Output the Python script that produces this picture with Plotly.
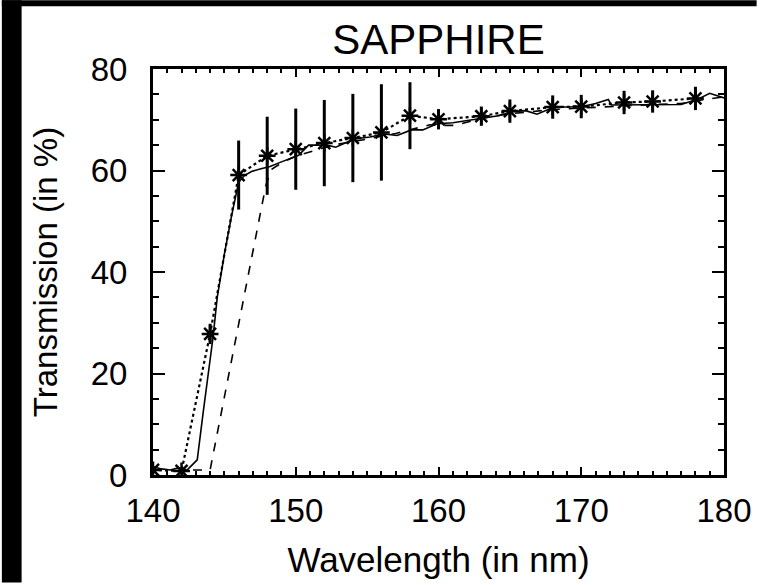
import plotly.graph_objects as go

# Sampled measurement (stars, dotted) with error bars
star_x = [140, 142, 144, 146, 148, 150, 152, 154, 156, 158, 160, 163, 165, 168, 170, 173, 175, 178]
star_y = [1.0, 0.8, 27.8, 59.1, 62.9, 64.2, 65.4, 66.4, 67.5, 70.8, 70.1, 70.7, 71.7, 72.5, 72.6, 73.4, 73.6, 74.2]
star_err = [0.5, 0.5, 2.0, 6.8, 7.7, 8.0, 8.5, 8.7, 9.5, 6.6, 2.0, 1.9, 2.3, 2.3, 2.3, 2.3, 2.2, 2.3]

# High resolution measurement (solid)
solid_x = [140.0, 140.6, 141.2, 141.8, 142.4, 142.9, 143.1, 143.5, 144.0, 144.2, 144.5, 145.0, 145.5,
           146.0, 146.4, 146.9, 147.5, 148.2, 149.0, 150.2, 150.9, 152.2, 152.8, 154.1, 155.2, 156.2,
           157.1, 158.1, 158.9, 159.9, 161.0, 162.0, 163.2, 164.2, 165.2, 166.1, 166.9, 168.1, 169.1,
           170.1, 171.0, 171.9, 172.1, 173.1, 175.1, 177.0, 178.2, 179.0, 180.0]
solid_y = [1.6, 1.2, 1.0, 1.4, 1.0, 2.5, 3.0, 12.0, 22.0, 27.0, 35.0, 43.5, 51.0,
           57.7, 59.0, 59.8, 60.3, 60.8, 61.7, 63.0, 65.0, 65.0, 64.6, 66.2, 66.6, 67.2,
           66.9, 68.0, 68.0, 69.2, 69.4, 69.8, 70.4, 70.8, 71.6, 71.8, 71.1, 72.5, 72.5,
           72.6, 73.2, 74.0, 72.9, 72.9, 73.0, 73.0, 74.1, 75.2, 74.3]

# Second measurement (dashed)
dash_x = [142.8, 144.0, 147.9, 148.3, 149.0, 150.0, 151.6, 153.0, 155.0, 157.0, 159.4, 160.0, 161.2,
          163.0, 165.0, 168.0, 170.0, 173.0, 175.0, 177.0, 178.2, 180.0]
dash_y = [1.0, 1.0, 57.0, 60.2, 61.5, 62.8, 64.2, 65.2, 66.2, 67.3, 69.0, 68.9, 68.9,
          70.3, 71.2, 72.0, 72.3, 72.8, 73.0, 73.2, 73.8, 74.5]

fig = go.Figure()

fig.add_trace(go.Scatter(x=dash_x, y=dash_y, mode="lines",
                         line=dict(color="black", width=1.6, dash="dash"), showlegend=False))
fig.add_trace(go.Scatter(x=solid_x, y=solid_y, mode="lines",
                         line=dict(color="black", width=1.6), showlegend=False))
fig.add_trace(go.Scatter(x=star_x, y=star_y, mode="lines+markers",
                         line=dict(color="black", width=2.2, dash="dot"),
                         marker=dict(symbol="asterisk-open", size=14, color="black",
                                     line=dict(color="black", width=2.5)),
                         error_y=dict(type="data", array=star_err, visible=True,
                                      color="black", thickness=3, width=0),
                         showlegend=False))

font = "Liberation Sans"
fig.update_layout(
    width=764, height=585, autosize=False,
    margin=dict(l=153, r=33, t=69, b=108),
    paper_bgcolor="white", plot_bgcolor="white",
    font=dict(family=font, color="black", size=33),
    title=dict(text="SAPPHIRE", x=0.5, xref="paper", xanchor="center",
               y=1 - 39 / 585, yref="container", yanchor="middle",
               font=dict(family=font, size=42, color="black")),
    xaxis=dict(range=[140, 180], dtick=10, tick0=140, ticks="inside", ticklen=8, tickwidth=2,
               tickcolor="black", showline=True, linewidth=3, linecolor="black", mirror="ticks",
               showgrid=False, zeroline=False, ticklabelstandoff=4,
               tickfont=dict(size=33),
               minor=dict(dtick=1, ticks="inside", ticklen=4, tickwidth=2, tickcolor="black", showgrid=False),
               title=dict(text="Wavelength (in nm)", standoff=20, font=dict(size=35))),
    yaxis=dict(range=[0, 80], dtick=20, tick0=0, ticks="inside", ticklen=12, tickwidth=2,
               tickcolor="black", showline=True, linewidth=3, linecolor="black", mirror="ticks",
               showgrid=False, zeroline=False, ticklabelstandoff=16,
               tickfont=dict(size=33),
               minor=dict(dtick=5, ticks="inside", ticklen=6, tickwidth=2, tickcolor="black", showgrid=False),
               title=dict(text="Transmission (in %)", standoff=24, font=dict(size=33))),
)

# black frame edges of the original picture (left and top bands)
pw, ph = 764 - 153 - 33, 585 - 69 - 108
fig.add_shape(type="rect", xref="paper", yref="paper",
              x0=(0 - 153) / pw, x1=(20 - 153) / pw, y0=-108 / ph, y1=477 / ph,
              fillcolor="black", line=dict(width=0), layer="above")
fig.add_shape(type="rect", xref="paper", yref="paper",
              x0=(0 - 153) / pw, x1=(764 - 153) / pw, y0=(477 - 6) / ph, y1=477 / ph,
              fillcolor="black", line=dict(width=0), layer="above")

fig.write_html("out.html", config={"displayModeBar": False},
               post_script="document.body.style.margin='0';document.body.style.overflow='hidden';")
